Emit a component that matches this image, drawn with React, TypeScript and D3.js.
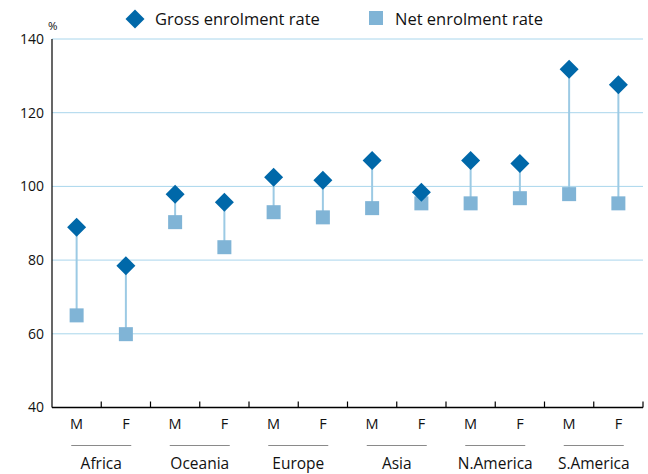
import React from "react";
import * as d3 from "d3";

const regions = ["Africa", "Oceania", "Europe", "Asia", "N.America", "S.America"];
const sexes = ["M", "F"];
const grossRate = [88.9, 78.5, 97.9, 95.7, 102.5, 101.7, 107.0, 98.4, 107.0, 106.2, 131.8, 127.6];
const netRate = [65.0, 59.9, 90.3, 83.5, 93.0, 91.6, 94.1, 95.4, 95.4, 96.8, 97.9, 95.4];
const yTicks = [40, 60, 80, 100, 120, 140];

const W = 648, H = 474;
const left = 52, right = 643, top = 39, bottom = 407.5;
const FONT = "'Open Sans', 'Noto Sans', sans-serif";
const DARK = "#0068a9";
const LIGHT = "#80b4d6";
const STEM = "#9ccae4";
const GRID = "#a9d6ec";
const TXT = "#111";

export default function App() {
  const slots = regions.flatMap((r) => sexes.map((s) => `${r}-${s}`));
  const x = d3.scaleBand().domain(slots).range([left, right]).paddingInner(0).paddingOuter(0);
  const y = d3.scaleLinear().domain([40, 140]).range([bottom, top]);
  const bw = x.bandwidth();
  const cx = (i: number) => (x(slots[i]) as number) + bw / 2;
  const dHalf = 9.5;
  const sq = 14;

  return (
    <svg width={W} height={H} style={{ position: "absolute", left: 0, top: 0, fontFamily: FONT }}>
      {/* legend */}
      <path d={`M135,${19 - dHalf}L${135 + dHalf},19L135,${19 + dHalf}L${135 - dHalf},19Z`} fill={DARK} />
      <text x={155} y={25} fontSize={16.5} fill={TXT}>Gross enrolment rate</text>
      <rect x={369} y={11} width={14} height={14} fill={LIGHT} />
      <text x={395} y={25} fontSize={16.5} fill={TXT}>Net enrolment rate</text>
      <text x={48} y={30} fontSize={11.5} fill={TXT}>%</text>

      {/* grid */}
      {yTicks.map((t) => (
        <g key={t}>
          {t > 40 && <line x1={left} x2={right} y1={y(t)} y2={y(t)} stroke={GRID} strokeWidth={1} />}
          <text x={44} y={y(t)} dy="0.35em" textAnchor="end" fontSize={14} fill={TXT}>{t}</text>
        </g>
      ))}

      {/* axes */}
      <line x1={left} x2={left} y1={top} y2={bottom} stroke="#000" strokeWidth={1.2} />
      <line x1={left} x2={right} y1={bottom} y2={bottom} stroke="#000" strokeWidth={1.5} />
      {slots.map((s) => (
        <line key={s} x1={(x(s) as number) + bw} x2={(x(s) as number) + bw} y1={bottom - 6} y2={bottom} stroke="#000" strokeWidth={1.2} />
      ))}

      {/* stems */}
      {slots.map((s, i) => (
        <line key={`st${i}`} x1={cx(i)} x2={cx(i)} y1={y(grossRate[i])} y2={y(netRate[i])} stroke={STEM} strokeWidth={2} />
      ))}
      {/* net squares */}
      {slots.map((s, i) => (
        <rect key={`n${i}`} x={cx(i) - sq / 2} y={y(netRate[i]) - sq / 2} width={sq} height={sq} fill={LIGHT} />
      ))}
      {/* gross diamonds */}
      {slots.map((s, i) => {
        const px = cx(i), py = y(grossRate[i]);
        return (
          <path key={`g${i}`} d={`M${px},${py - dHalf}L${px + dHalf},${py}L${px},${py + dHalf}L${px - dHalf},${py}Z`} fill={DARK} />
        );
      })}

      {/* x labels */}
      {slots.map((s, i) => (
        <text key={`l${i}`} x={cx(i)} y={428.5} textAnchor="middle" fontSize={14.5} fill={TXT}>{sexes[i % 2]}</text>
      ))}
      {regions.map((r, ri) => {
        const mid = (cx(ri * 2) + cx(ri * 2 + 1)) / 2;
        return (
          <g key={r}>
            <line x1={mid - 30} x2={mid + 30} y1={445.5} y2={445.5} stroke="#8a8a8a" strokeWidth={1.2} />
            <text x={mid} y={469} textAnchor="middle" fontSize={15.5} fill={TXT}>{r}</text>
          </g>
        );
      })}
    </svg>
  );
}
